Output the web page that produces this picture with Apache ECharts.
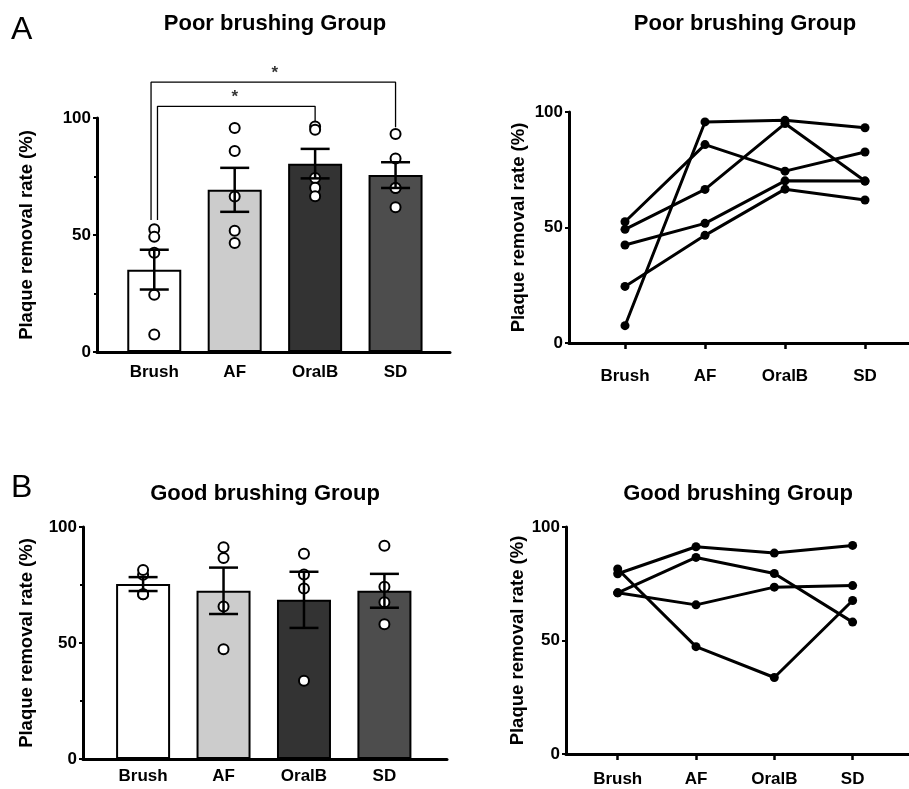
<!DOCTYPE html>
<html>
<head>
<meta charset="utf-8">
<script src="https://cdn.jsdelivr.net/npm/echarts@6/dist/echarts.min.js"></script>
<style>
  html, body { margin: 0; padding: 0; background: #fff; }
  #chart { width: 909px; height: 789px; }
</style>
</head>
<body>
<div id="chart"></div>
<script>
const categories = ['Brush', 'AF', 'OralB', 'SD']
const barColors = ['#ffffff', '#cccccc', '#333333', '#4d4d4d']

// Poor brushing group, one array per subject (Brush, AF, OralB, SD)
const poorS1 = [7.5, 95.7, 96.4, 93.2]
const poorS2 = [52.5, 85.9, 74.4, 82.7]
const poorS3 = [49.2, 66.5, 95.0, 70.1]
const poorS4 = [42.4, 51.8, 70.2, 70.1]
const poorS5 = [24.5, 46.6, 66.6, 61.9]
const poorMean = [35.2, 69.3, 80.5, 75.6]
const poorSem = [8.5, 9.4, 6.3, 5.5]

// Good brushing group
const goodS1 = [79.4, 91.3, 88.5, 91.9]
const goodS2 = [71.0, 86.6, 79.5, 58.1]
const goodS3 = [71.0, 65.7, 73.5, 74.2]
const goodS4 = [81.5, 47.3, 33.7, 67.6]
const goodMean = [75.4, 72.5, 68.6, 72.5]
const goodSem = [3.0, 10.0, 12.1, 7.3]

// significance brackets (category position, value)
const bracketOuter = [[-0.04, 56.4], [-0.04, 115.3], [3, 115.3], [3, 96.1]]
const bracketInner = [[0.04, 56.4], [0.04, 105], [2, 105], [2, 98.6]]
const stars = [[1.5, 115.3], [1, 105]]

const yTicks = [0, 50, 100]

const FONT = '"Liberation Sans", Arial, Helvetica, sans-serif'

const chart = echarts.init(document.getElementById('chart'))

function xAxisFor(gridIndex, min, max, margin, ticks) {
    return {
        type: 'value',
        gridIndex: gridIndex,
        min: min,
        max: max,
        splitLine: { show: false },
        axisLine: { onZero: false, lineStyle: { color: '#000', width: 3 } },
        axisTick: {
            show: ticks,
            customValues: [0, 1, 2, 3],
            length: 6,
            lineStyle: { color: '#000', width: 2.5 }
        },
        axisLabel: {
            customValues: [0, 1, 2, 3],
            formatter: v => categories[Math.round(v)],
            margin: margin,
            color: '#000',
            fontFamily: FONT,
            fontWeight: 'bold',
            fontSize: 17
        }
    }
}

function yAxisFor(gridIndex, minor, gap) {
    return {
        type: 'value',
        gridIndex: gridIndex,
        min: 0,
        max: 100,
        interval: 50,
        name: 'Plaque removal rate (%)',
        nameLocation: 'middle',
        nameGap: gap,
        nameTextStyle: { color: '#000', fontFamily: FONT, fontWeight: 'bold', fontSize: 18.5 },
        splitLine: { show: false },
        axisLine: { onZero: false, lineStyle: { color: '#000', width: 3 } },
        axisTick: { length: 4, lineStyle: { color: '#000', width: 2 } },
        minorTick: { show: minor, splitNumber: 2, length: 3, lineStyle: { color: '#000', width: 2 } },
        axisLabel: {
            margin: 6,
            color: '#000',
            fontFamily: FONT,
            fontWeight: 'bold',
            fontSize: 17,
            customValues: yTicks
        }
    }
}

function barSeries(gi, mean, sem, subjects) {
    const out = []
    out.push({
        type: 'bar',
        xAxisIndex: gi,
        yAxisIndex: gi,
        barWidth: 54,
        data: mean.map((m, i) => ({
            value: [i, m],
            itemStyle: { color: barColors[i], borderColor: '#000', borderWidth: 2 }
        })),
        z: 2
    })
    const pts = []
    subjects.forEach(s => s.forEach((v, i) => pts.push([i, v])))
    out.push({
        type: 'scatter',
        xAxisIndex: gi,
        yAxisIndex: gi,
        symbol: 'circle',
        symbolSize: 10,
        itemStyle: { color: '#fff', borderColor: '#000', borderWidth: 2, opacity: 1 },
        data: pts,
        z: 3
    })
    out.push({
        type: 'custom',
        xAxisIndex: gi,
        yAxisIndex: gi,
        encode: { x: 0, y: 1 },
        data: mean.map((m, i) => [i, m, sem[i]]),
        renderItem: function (params, api) {
            const x = api.value(0)
            const m = api.value(1)
            const s = api.value(2)
            const hi = api.coord([x, m + s])
            const lo = api.coord([x, m - s])
            const style = { stroke: '#000', lineWidth: 2.5 }
            return {
                type: 'group',
                children: [
                    { type: 'line', shape: { x1: hi[0], y1: hi[1], x2: lo[0], y2: lo[1] }, style: style },
                    { type: 'line', shape: { x1: hi[0] - 14.5, y1: hi[1], x2: hi[0] + 14.5, y2: hi[1] }, style: style },
                    { type: 'line', shape: { x1: lo[0] - 14.5, y1: lo[1], x2: lo[0] + 14.5, y2: lo[1] }, style: style }
                ]
            }
        },
        z: 4
    })
    return out
}

function lineSeries(gi, subjects) {
    return subjects.map(s => ({
        type: 'line',
        xAxisIndex: gi,
        yAxisIndex: gi,
        symbol: 'circle',
        symbolSize: 9,
        lineStyle: { color: '#000', width: 3 },
        itemStyle: { color: '#000' },
        data: s.map((v, i) => [i, v])
    }))
}

const poorSubjects = [poorS1, poorS2, poorS3, poorS4, poorS5]
const goodSubjects = [goodS1, goodS2, goodS3, goodS4]

const titleStyle = { color: '#000', fontFamily: FONT, fontWeight: 'bold', fontSize: 22 }
const letterStyle = { color: '#000', fontFamily: FONT, fontWeight: 'normal', fontSize: 32 }

const series = [].concat(
    barSeries(0, poorMean, poorSem, poorSubjects),
    lineSeries(1, poorSubjects),
    barSeries(2, goodMean, goodSem, goodSubjects),
    lineSeries(3, goodSubjects),
    [bracketOuter, bracketInner].map(b => ({
        type: 'line',
        xAxisIndex: 0,
        yAxisIndex: 0,
        clip: false,
        symbol: 'none',
        lineStyle: { color: '#000', width: 1.3 },
        data: b
    })),
    [{
        type: 'scatter',
        xAxisIndex: 0,
        yAxisIndex: 0,
        clip: false,
        symbolSize: 0,
        label: {
            show: true,
            position: 'top',
            distance: 0,
            formatter: '*',
            color: '#000',
            fontFamily: FONT,
            fontWeight: 'bold',
            fontSize: 17
        },
        data: stars
    }]
)

chart.setOption({
    animation: false,
    backgroundColor: '#fff',
    title: [
        { text: 'A', left: 11, top: 14, padding: 0, textStyle: letterStyle },
        { text: 'Poor brushing Group', left: 275, top: 13, padding: 0, textAlign: 'center', textStyle: titleStyle },
        { text: 'Poor brushing Group', left: 745, top: 13, padding: 0, textAlign: 'center', textStyle: titleStyle },
        { text: 'B', left: 11, top: 472, padding: 0, textStyle: letterStyle },
        { text: 'Good brushing Group', left: 265, top: 483, padding: 0, textAlign: 'center', textStyle: titleStyle },
        { text: 'Good brushing Group', left: 738, top: 483, padding: 0, textAlign: 'center', textStyle: titleStyle }
    ],
    grid: [
        { left: 97, top: 118, width: 353, height: 234 },
        { left: 569, top: 112, width: 340, height: 231 },
        { left: 83, top: 527, width: 364, height: 232 },
        { left: 566, top: 527, width: 343, height: 227 }
    ],
    xAxis: [
        xAxisFor(0, -0.712, 3.677, 12, false),
        xAxisFor(1, -0.70, 3.55, 25, true),
        xAxisFor(2, -0.747, 3.778, 9, false),
        xAxisFor(3, -0.66, 3.72, 17, true)
    ],
    yAxis: [
        yAxisFor(0, true, 61),
        yAxisFor(1, false, 41),
        yAxisFor(2, true, 47),
        yAxisFor(3, false, 38)
    ],
    series: series
})
</script>
</body>
</html>
